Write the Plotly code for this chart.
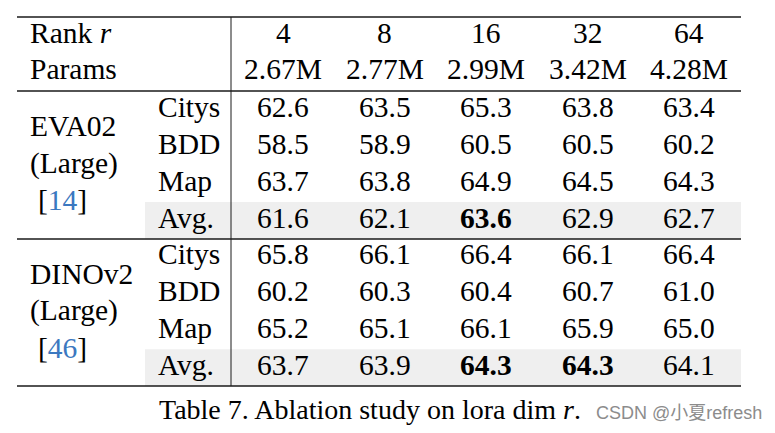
import plotly.graph_objects as go

# ---------------- data ----------------
ranks = ["4", "8", "16", "32", "64"]
params = ["2.67M", "2.77M", "2.99M", "3.42M", "4.28M"]
datasets = ["Citys", "BDD", "Map", "Avg."]

eva02_name = ["EVA02", "(Large)"]
eva02_ref = "14"
eva02_citys = [62.6, 63.5, 65.3, 63.8, 63.4]
eva02_bdd = [58.5, 58.9, 60.5, 60.5, 60.2]
eva02_map = [63.7, 63.8, 64.9, 64.5, 64.3]
eva02_avg = [61.6, 62.1, 63.6, 62.9, 62.7]

dino_name = ["DINOv2", "(Large)"]
dino_ref = "46"
dino_citys = [65.8, 66.1, 66.4, 66.1, 66.4]
dino_bdd = [60.2, 60.3, 60.4, 60.7, 61.0]
dino_map = [65.2, 65.1, 66.1, 65.9, 65.0]
dino_avg = [63.7, 63.9, 64.3, 64.3, 64.1]

caption = "Table 7. Ablation study on lora dim <i>r</i>."
watermark = "CSDN @小夏refresh"

# ---------------- layout constants ----------------
W, H = 775, 433
OFF = 8  # page body margin
FONT = "Liberation Serif, Times New Roman, serif"
FS = 29.5
LINE_COL = "#1a1a1a"
GRAY = "#efefef"
REF_COL = "#3b78c0"

x_left, x_right = 17, 741
x_vert = 231
x_sub = 156
x_name = 28
col_x0, col_dx = 283, 101.5
y_top, y_head, y_mid, y_bot = 17, 91, 239, 386

fig = go.Figure()
shapes = []
ann = []

def txt(x, y, s, xanchor="center", size=FS, color="#000", family=FONT):
    ann.append(dict(x=x, y=y, xref="x", yref="y", text=s, showarrow=False,
                    xanchor=xanchor, yanchor="middle",
                    font=dict(family=family, size=size, color=color)))

# header
txt(x_name, 33, "Rank <i>r</i>", xanchor="left")
txt(x_name, 69, "Params", xanchor="left")
for i, (r, p) in enumerate(zip(ranks, params)):
    cx = col_x0 + i * col_dx
    txt(cx, 33, r)
    txt(cx, 69, p)

blocks = [
    (eva02_name, eva02_ref, [eva02_citys, eva02_bdd, eva02_map, eva02_avg], y_head, y_mid),
    (dino_name, dino_ref, [dino_citys, dino_bdd, dino_map, dino_avg], y_mid, y_bot),
]

for name, ref, rows, y0, y1 in blocks:
    rh = (y1 - y0) / 4.0
    shapes.append(dict(type="rect", xref="x", yref="y", x0=145, x1=x_right,
                       y0=y0 + 3 * rh, y1=y1, fillcolor=GRAY, line=dict(width=0),
                       layer="below"))
    yc_block = (y0 + y1) / 2.0 - 2
    txt(x_name, yc_block - 37, name[0], xanchor="left")
    txt(x_name, yc_block, name[1], xanchor="left")
    txt(x_name + 8, yc_block + 37,
        "[<span style='color:%s'>%s</span>]" % (REF_COL, ref), xanchor="left")
    for j, (ds, vals) in enumerate(zip(datasets, rows)):
        yc = y0 + (j + 0.5) * rh - 3
        txt(x_sub, yc, ds, xanchor="left")
        best = max(vals) if ds == "Avg." else None
        for i, v in enumerate(vals):
            s = "%.1f" % v
            if best is not None and v == best:
                s = "<b>%s</b>" % s
            txt(col_x0 + i * col_dx, yc, s)

# rules
for y in [y_top, y_head, y_mid, y_bot]:
    shapes.append(dict(type="line", xref="x", yref="y", x0=x_left, x1=x_right,
                       y0=y, y1=y, line=dict(color=LINE_COL, width=1.6)))
shapes.append(dict(type="line", xref="x", yref="y", x0=x_vert, x1=x_vert,
                   y0=y_top, y1=y_bot, line=dict(color=LINE_COL, width=1)))

# caption + watermark
txt(157, 409, caption, xanchor="left", size=28)
txt(594, 413, watermark, xanchor="left", size=18, color="#8c8c8c",
    family="Liberation Sans, Arial, Noto Sans CJK SC, sans-serif")

fig.update_layout(
    width=W - OFF, height=H - OFF, margin=dict(l=0, r=0, t=0, b=0),
    paper_bgcolor="white", plot_bgcolor="white",
    xaxis=dict(range=[OFF, W], visible=False, fixedrange=True),
    yaxis=dict(range=[H, OFF], visible=False, fixedrange=True),
    shapes=shapes, annotations=ann, showlegend=False,
)
fig.write_html("out.html", config={"displayModeBar": False})
